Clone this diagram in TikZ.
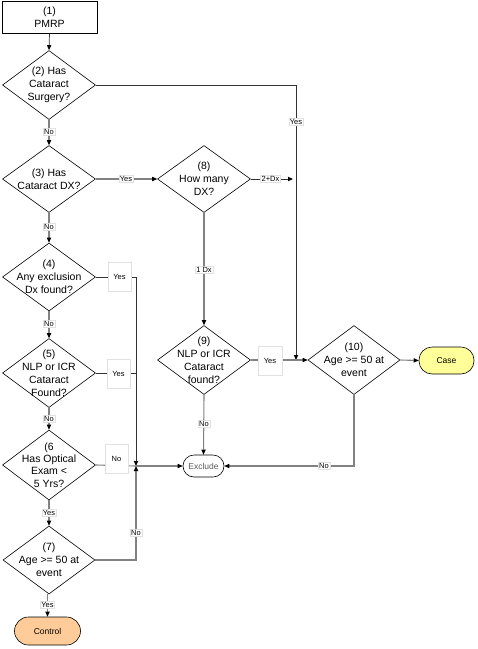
\documentclass[tikz,border=0pt]{standalone}
\usepackage{fontspec}
\setmainfont{Liberation Sans}
\usetikzlibrary{shapes.geometric,arrows.meta}
\definecolor{lgray}{RGB}{130,130,130}
\definecolor{dgray}{RGB}{50,50,50}
\definecolor{lblline}{RGB}{225,225,225}
\definecolor{casefill}{RGB}{255,255,153}
\definecolor{ctrlfill}{RGB}{255,204,153}
\tikzset{
  dia/.style={diamond, draw=black, line width=0.6pt, inner sep=0pt, minimum width=93pt, minimum height=69pt},
  dtxt/.style={align=center, font=\fontsize{10.5}{13}\selectfont, inner sep=0pt},
  gl/.style={draw=lgray, line width=1.1pt},
  dl/.style={draw=dgray, line width=0.7pt},
  tip/.style={-{Triangle[length=5pt,width=4.5pt,color=black,line width=0pt]}},
  lbl/.style={fill=white, draw=lblline, line width=0.4pt, font=\fontsize{7.5}{9}\selectfont, inner sep=1pt},
  lblbig/.style={lbl, minimum width=23pt, minimum height=29pt},
  term/.style={draw=black, line width=0.6pt, rounded corners=11pt, font=\fontsize{8.5}{10}\selectfont, inner sep=0pt}
}
\begin{document}
\begin{tikzpicture}[x=1pt,y=-1pt]
\useasboundingbox (0,0) rectangle (478,649);
% nodes
\node[draw=black, line width=0.6pt, minimum width=95pt, minimum height=32pt, align=center, font=\fontsize{10.5}{13}\selectfont, inner sep=0pt] (n1) at (49.5,17.5) {(1)\\PMRP};
\node[dia] (d2) at (49,85) {};
\node[dtxt] (d2t) at (d2) {(2) Has\\Cataract\\Surgery?};
\node[dia, minimum height=67pt] (d3) at (49,179) {};
\node[dtxt] (d3t) at (d3) {(3) Has\\Cataract DX?};
\node[dia, minimum height=67pt] (d8) at (204,179) {};
\node[dtxt] (d8t) at (d8) {(8)\\How many\\DX?};
\node[dia, minimum height=68pt] (d4) at (49,277) {};
\node[dtxt] (d4t) at (d4) {(4)\\Any exclusion\\Dx found?};
\node[dia] (d5) at (49,373) {};
\node[dtxt] (d5t) at (d5) {(5)\\NLP or ICR\\Cataract\\Found?};
\node[dia, minimum height=70pt] (d6) at (49,465) {};
\node[dtxt, font=\fontsize{10.5}{12.2}\selectfont] (d6t) at (d6) {(6\\Has Optical\\Exam <\\5 Yrs?};
\node[dia, minimum width=92pt, minimum height=68pt] (d7) at (49,560) {};
\node[dtxt] (d7t) at (d7) {(7)\\Age >= 50 at\\event};
\node[dia] (d9) at (204,360) {};
\node[dtxt] (d9t) at (d9) {(9)\\NLP or ICR\\Cataract\\found?};
\node[dia, minimum width=92pt] (d10) at (354,360) {};
\node[dtxt] (d10t) at (d10) {(10)\\Age >= 50 at\\event};
\node[term, fill=casefill, minimum width=55pt, minimum height=27pt, rounded corners=13pt] (case) at (446.5,360.5) {Case};
\node[term, text=dgray!80, minimum width=41pt, minimum height=22pt] (ex) at (203.5,466) {Exclude};
\node[term, fill=ctrlfill, minimum width=66pt, minimum height=28pt, rounded corners=14pt] (ctrl) at (47.5,631) {Control};
% coordinates
\coordinate (j) at (136,466);
\coordinate (v5) at (136,373);
\coordinate (m) at (296,360);
\coordinate (e8) at (293,179);
% connectors
\draw[dl,tip] (n1.south) -- (d2.north);
\draw[gl,tip] (d2.south) -- (d3.north);
\draw[dl,tip] (d2.east) -| (m);
\draw[gl,tip] (d3.east) -- (d8.west);
\draw[dl,tip] (d8.east) -- (e8);
\draw[gl,tip] (d8.south) -- (d9.north);
\draw[gl,tip] (d3.south) -- (d4.north);
\draw[gl,tip] (d4.south) -- (d5.north);
\draw[gl,tip] (d5.south) -- (d6.north);
\draw[gl,tip] (d6.south) -- (d7.north);
\draw[gl,tip] (d7.south -| ctrl.north) -- (ctrl.north);
\draw[dl,tip] (d4.east) -| (j);
\draw[dl] (d5.east) -- (v5);
\draw[gl] (d6.east) -- (j);
\draw[gl,tip] (d7.east) -| (j);
\draw[gl,tip] (j) -- (ex.west);
\draw[gl,tip] (d9.south) -- (ex.north);
\draw[gl,tip] (d10.south) |- (ex.east);
\draw[gl,tip] (d9.east) -- (d10.west);
\draw[gl,tip] (d10.east) -- (case.west);
% labels
\node[lbl] (l2n) at (49,132) {No};
\node[lbl] (l2y) at (296,122) {Yes};
\node[lbl] (l3y) at (126,179) {Yes};
\node[lbl] (l8a) at (270.5,179) {2+Dx};
\node[lbl] (l8b) at (204,270) {1 Dx};
\node[lbl] (l3n) at (49,227) {No};
\node[lbl] (l4n) at (49,324) {No};
\node[lbl] (l5n) at (49,419) {No};
\node[lbl] (l6y) at (49,513) {Yes};
\node[lbl] (l7y) at (47.5,605) {Yes};
\node[lblbig] (l4y) at (119.5,276.5) {Yes};
\node[lblbig] (l5y) at (118.5,373.5) {Yes};
\node[lblbig] (l6n) at (116.5,458.5) {No};
\node[lbl] (l7n) at (136,533) {No};
\node[lblbig, minimum width=24pt] (l9y) at (270,360.5) {Yes};
\node[lbl] (l9n) at (204,424) {No};
\node[lbl] (l10n) at (324,466) {No};
\end{tikzpicture}
\end{document}
